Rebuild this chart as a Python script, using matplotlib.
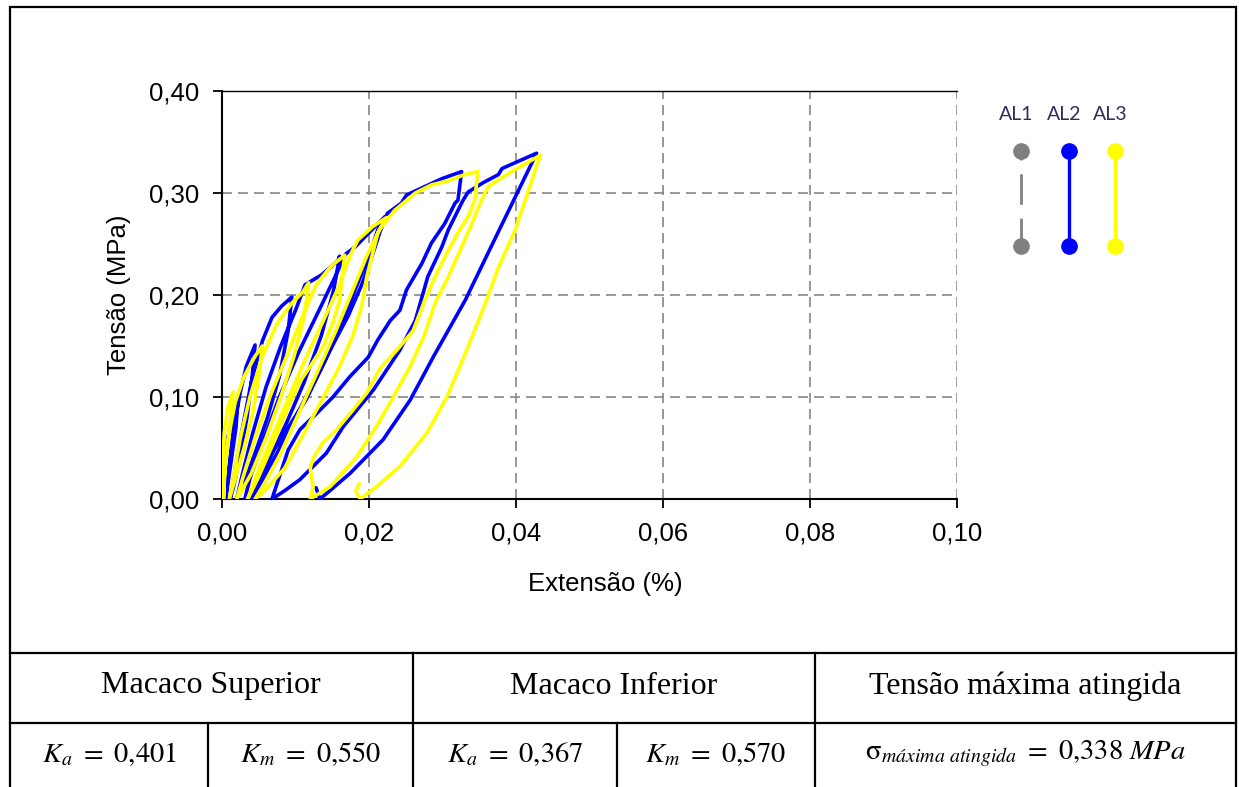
import matplotlib
matplotlib.use("Agg")
import matplotlib.pyplot as plt
from matplotlib.lines import Line2D
from matplotlib.patches import Rectangle
from matplotlib.ticker import FuncFormatter

# AL2 (blue) - loading / unloading cycles
al2_x = [0, 0.0003, 0.0008, 0.0014, 0.0022,
         0.0019, 0.0013, 0.0008, 0.0005,
         0.0009, 0.0016, 0.0025, 0.0033, 0.0045,
         0.0041, 0.0034, 0.0024, 0.0015, 0.0011,
         0.0018, 0.0028, 0.004, 0.0055, 0.0068, 0.0081, 0.0095,
         0.009, 0.0078, 0.0062, 0.0045, 0.003, 0.002,
         0.0028, 0.0042, 0.006, 0.008, 0.0100, 0.0113, 0.0136, 0.0158, 0.016,
         0.0152, 0.0135, 0.0112, 0.0088, 0.0062, 0.0042, 0.0031,
         0.0038, 0.0055, 0.0078, 0.0105, 0.0132, 0.0152, 0.0168, 0.0181, 0.0204, 0.0222,
         0.0212, 0.0204, 0.019, 0.0181, 0.0165, 0.014, 0.0115, 0.009, 0.0068, 0.005, 0.004,
         0.0052, 0.0075, 0.010, 0.0125, 0.015, 0.0172, 0.019, 0.0205, 0.0215, 0.0225,
         0.0244, 0.0251, 0.0272, 0.0299, 0.0326,
         0.0321, 0.0317, 0.0303, 0.0285, 0.0272, 0.0251, 0.0242, 0.0229, 0.0212, 0.0199,
         0.0174, 0.0151, 0.0129, 0.0106, 0.009, 0.0078, 0.0068,
         0.0085, 0.0106, 0.0142, 0.0165, 0.0206, 0.0242, 0.0263, 0.028, 0.0299, 0.0308,
         0.0317, 0.0328, 0.0335, 0.0355, 0.0376, 0.0381, 0.0403, 0.0428,
         0.0378, 0.0331, 0.0288, 0.0256, 0.0219, 0.0174, 0.0145, 0.0133, 0.0128]
al2_y = [0, 0.03, 0.06, 0.08, 0.10,
         0.07, 0.04, 0.015, 0,
         0.03, 0.07, 0.105, 0.13, 0.151,
         0.12, 0.08, 0.04, 0.01, 0,
         0.03, 0.07, 0.115, 0.155, 0.178, 0.189, 0.198,
         0.165, 0.12, 0.08, 0.045, 0.015, 0,
         0.025, 0.065, 0.11, 0.15, 0.185, 0.210, 0.220, 0.234, 0.238,
         0.205, 0.16, 0.115, 0.075, 0.035, 0.01, 0,
         0.02, 0.055, 0.1, 0.145, 0.185, 0.215, 0.24, 0.247, 0.264, 0.277,
         0.264, 0.247, 0.221, 0.205, 0.175, 0.135, 0.098, 0.07, 0.045, 0.02, 0,
         0.015, 0.045, 0.08, 0.115, 0.15, 0.18, 0.21, 0.24, 0.262, 0.28,
         0.290, 0.298, 0.305, 0.314, 0.321,
         0.293, 0.29, 0.27, 0.251, 0.231, 0.205, 0.185, 0.175, 0.156, 0.139,
         0.120, 0.100, 0.084, 0.068, 0.048, 0.022, 0,
         0.008, 0.019, 0.045, 0.071, 0.107, 0.146, 0.175, 0.218, 0.247, 0.264,
         0.277, 0.293, 0.301, 0.310, 0.318, 0.324, 0.331, 0.339,
         0.265, 0.195, 0.140, 0.097, 0.058, 0.025, 0.007, 0, 0.011]

# AL3 (yellow)
al3_x = [0, 0.0001, 0.0003, 0.0008, 0.0015,
         0.0012, 0.0007, 0.0003, 0.0002,
         0.0004, 0.001, 0.0018, 0.003, 0.0045, 0.0055,
         0.005, 0.0042, 0.003, 0.0018, 0.001,
         0.0015, 0.0025, 0.0038, 0.0055, 0.0075, 0.0095, 0.011, 0.0118,
         0.0112, 0.0098, 0.008, 0.006, 0.004, 0.002,
         0.0028, 0.0045, 0.0065, 0.0088, 0.011, 0.0128, 0.0148, 0.0167,
         0.0163, 0.016, 0.0152, 0.0138, 0.012, 0.0106, 0.009, 0.007, 0.005, 0.0035,
         0.0045, 0.0065, 0.0088, 0.0112, 0.0138, 0.016, 0.0175, 0.0185, 0.0205, 0.0224,
         0.0212, 0.0204, 0.0197, 0.019, 0.0178, 0.016, 0.0138, 0.0112, 0.0085, 0.0058, 0.0045,
         0.0058, 0.008, 0.0105, 0.013, 0.0155, 0.0178, 0.0198, 0.0215, 0.0235, 0.0263,
         0.0285, 0.0308, 0.033, 0.0348,
         0.0344, 0.0335, 0.0321, 0.0308, 0.029, 0.0276, 0.026, 0.0238, 0.0215, 0.0197,
         0.0178, 0.0156, 0.0137, 0.0124, 0.012, 0.0124, 0.012,
         0.0147, 0.0183, 0.021, 0.0233, 0.0256, 0.0275, 0.029, 0.0308, 0.0326, 0.034,
         0.0353, 0.0362, 0.0376, 0.0399, 0.0433,
         0.0399, 0.0375, 0.036, 0.0333, 0.0306, 0.0279, 0.0242, 0.021, 0.0188, 0.0182, 0.0187]
al3_y = [0, 0.03, 0.065, 0.09, 0.105,
         0.08, 0.05, 0.02, 0,
         0.03, 0.065, 0.095, 0.12, 0.14, 0.15,
         0.12, 0.085, 0.05, 0.02, 0,
         0.02, 0.06, 0.10, 0.14, 0.172, 0.192, 0.203, 0.212,
         0.18, 0.14, 0.1, 0.06, 0.025, 0,
         0.02, 0.06, 0.10, 0.14, 0.18, 0.21, 0.228, 0.239,
         0.215, 0.195, 0.175, 0.15, 0.13, 0.115, 0.09, 0.055, 0.022, 0,
         0.02, 0.055, 0.095, 0.135, 0.175, 0.21, 0.24, 0.254, 0.267, 0.276,
         0.261, 0.238, 0.218, 0.189, 0.16, 0.13, 0.1, 0.065, 0.03, 0.008, 0,
         0.015, 0.045, 0.085, 0.125, 0.165, 0.205, 0.24, 0.265, 0.283, 0.3,
         0.308, 0.312, 0.318, 0.321,
         0.293, 0.277, 0.261, 0.244, 0.218, 0.195, 0.165, 0.146, 0.128, 0.104,
         0.087, 0.068, 0.055, 0.04, 0.03, 0.012, 0,
         0.012, 0.041, 0.071, 0.1, 0.13, 0.16, 0.192, 0.218, 0.247, 0.27,
         0.293, 0.306, 0.313, 0.323, 0.337,
         0.264, 0.225, 0.195, 0.146, 0.1, 0.065, 0.032, 0.012, 0, 0.008, 0.015]

x_ticks = [0, 0.02, 0.04, 0.06, 0.08, 0.10]
y_ticks = [0, 0.10, 0.20, 0.30, 0.40]

series_names = ["AL1", "AL2", "AL3"]
series_colors = ["#808080", "#0000ff", "#ffff00"]

header_labels = ["Macaco Superior", "Macaco Inferior", "Tensão máxima atingida"]
value_labels = [r"$K_a\ =\ 0{,}401$", r"$K_m\ =\ 0{,}550$",
                r"$K_a\ =\ 0{,}367$", r"$K_m\ =\ 0{,}570$",
                r"$\mathrm{σ}_{máxima\ atingida}\ =\ 0{,}338\ MPa$"]

W, H = 1239, 787


def fx(px):
    return px / W


def fy(py):
    return 1 - py / H


plt.rcParams['font.family'] = ['Liberation Sans', 'DejaVu Sans']
plt.rcParams['mathtext.fontset'] = 'stix'

fig = plt.figure(figsize=(W / 100, H / 100), dpi=100)
ax = fig.add_axes([fx(222), fy(499), fx(957) - fx(222), fy(91) - fy(499)])

ax.plot(al2_x, al2_y, color=series_colors[1], lw=2.6, solid_joinstyle='round',
        solid_capstyle='round', zorder=3)
ax.plot(al3_x, al3_y, color=series_colors[2], lw=2.6, solid_joinstyle='round',
        solid_capstyle='round', zorder=4)

ax.set_xlim(0, 0.10)
ax.set_ylim(0, 0.40)
ax.set_xticks(x_ticks)
ax.set_yticks(y_ticks)
comma = FuncFormatter(lambda v, p: ("%.2f" % v).replace(".", ","))
ax.xaxis.set_major_formatter(comma)
ax.yaxis.set_major_formatter(comma)
ax.tick_params(axis='both', direction='out', length=6.5, width=1.3,
               labelsize=18.5, pad=10, color='black')
ax.grid(True, color='#868686', linestyle=(0, (6, 3.6)), lw=1.2)
ax.set_axisbelow(True)
for s in ['left', 'bottom']:
    ax.spines[s].set_linewidth(1.5)
ax.spines['top'].set_linewidth(1.0)
ax.spines['right'].set_visible(False)

fig.text(fx(119), fy(295), "Tensão (MPa)", rotation=90, ha='center', va='center', fontsize=18.5)
fig.text(fx(605), fy(584), "Extensão (%)", ha='center', va='center', fontsize=18.5)

# legend drawn as vertical samples like the original
leg_x = [1021, 1069, 1115]
for name, col, lx in zip(series_names, series_colors, leg_x):
    fig.text(fx(lx - 5), fy(115), name, ha='center', va='center', fontsize=14,
             family='Lato', color='#2e2e5e')
    if name == "AL1":
        ln = Line2D([fx(lx), fx(lx)], [fy(246), fy(151)], color=col, lw=2.0,
                    linestyle=(1, (11, 5)), transform=fig.transFigure)
    else:
        ln = Line2D([fx(lx), fx(lx)], [fy(246), fy(151)], color=col, lw=2.4,
                    transform=fig.transFigure)
    fig.add_artist(ln)
    fig.add_artist(Line2D([fx(lx), fx(lx)], [fy(246), fy(151)], color=col, lw=0,
                          marker='o', markersize=11, transform=fig.transFigure))

# outer frame and table
fig.add_artist(Rectangle((fx(10), fy(800)), fx(1236) - fx(10), fy(7) - fy(800),
                         fill=False, lw=1.6, edgecolor='black', transform=fig.transFigure))
for yy in [653, 723]:
    fig.add_artist(Line2D([fx(10), fx(1236)], [fy(yy), fy(yy)], color='black', lw=1.6,
                          transform=fig.transFigure))
for xx in [413, 815]:
    fig.add_artist(Line2D([fx(xx), fx(xx)], [fy(653), fy(723)], color='black', lw=1.6,
                          transform=fig.transFigure))
for xx in [208, 413, 617, 815]:
    fig.add_artist(Line2D([fx(xx), fx(xx)], [fy(723), fy(800)], color='black', lw=1.6,
                          transform=fig.transFigure))

head_cx = [210.5, 614, 1025.5]
for lab, cx in zip(header_labels, head_cx):
    fig.text(fx(cx), fy(686), lab, ha='center', va='center', fontsize=23,
             family='Liberation Serif')
val_cx = [109, 310.5, 515, 716, 1025.5]
for lab, cx in zip(value_labels, val_cx):
    fig.text(fx(cx), fy(754), lab, ha='center', va='center', fontsize=20.5)

fig.savefig("out.png", dpi=100)
